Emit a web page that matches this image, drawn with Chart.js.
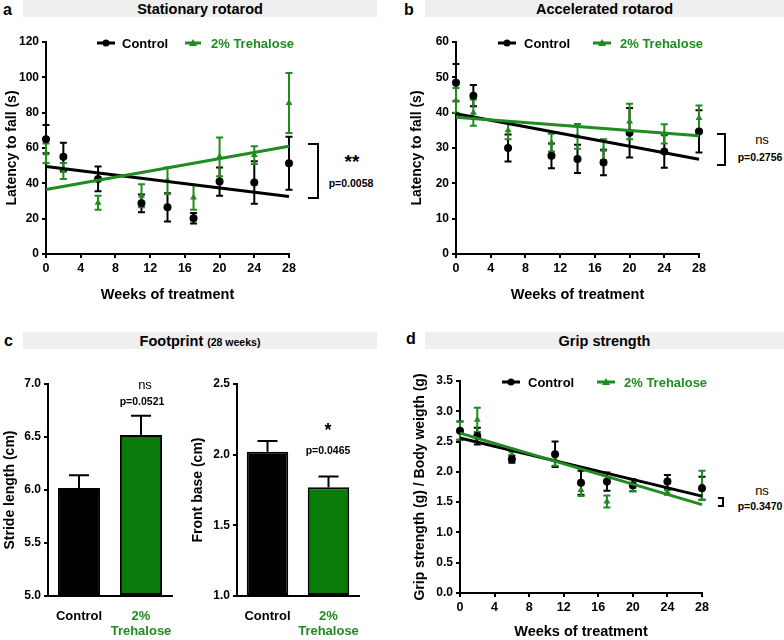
<!DOCTYPE html>
<html>
<head>
<meta charset="utf-8">
<script src="https://cdn.jsdelivr.net/npm/chart.js@4.4.1/dist/chart.umd.min.js"></script>
<style>
  body { margin: 0; width: 784px; height: 640px; overflow: hidden; background: #fff; position: relative;
         font-family: "Liberation Sans", Arial, sans-serif; }
  canvas { position: absolute; }
  .band { position: absolute; background: #efefef; height: 17px; font-weight: bold; font-size: 14.5px;
          text-align: center; line-height: 19px; color: #000; }
  .letter { position: absolute; font-weight: bold; font-size: 16px; color: #000; }
  .txt { position: absolute; transform: translate(-50%, -50%); white-space: nowrap; color: #000; font-weight: bold; }
  .brk { position: absolute; border: 2px solid #000; border-left: none; }
</style>
</head>
<body>

<div class="letter" style="left:3px;top:1px">a</div>
<div class="band" style="left:23px;top:0;width:354px">Stationary rotarod</div>
<div class="letter" style="left:404px;top:1px">b</div>
<div class="band" style="left:425px;top:0;width:359px">Accelerated rotarod</div>
<div class="letter" style="left:4px;top:332px">c</div>
<div class="band" style="left:23px;top:332px;width:354px">Footprint <span style="font-size:10.5px">(28 weeks)</span></div>
<div class="letter" style="left:406px;top:330px">d</div>
<div class="band" style="left:425px;top:332px;width:359px">Grip strength</div>

<canvas id="chartA" width="300" height="278" style="left:0;top:30px"></canvas>
<canvas id="chartB" width="305" height="278" style="left:405px;top:30px"></canvas>
<canvas id="chartStride" width="180" height="268" style="left:0;top:372px"></canvas>
<canvas id="chartBase" width="180" height="268" style="left:186px;top:372px"></canvas>
<canvas id="chartD" width="305" height="272" style="left:408px;top:369px"></canvas>

<!-- anotaciones estadísticas -->
<div class="brk" style="left:308px;top:143px;width:9px;height:52px"></div>
<div class="txt" style="left:352px;top:162px;font-size:19px">**</div>
<div class="txt" style="left:351px;top:183px;font-size:10.5px">p=0.0058</div>

<div class="brk" style="left:717px;top:133px;width:7px;height:29px"></div>
<div class="txt" style="left:762px;top:139px;font-size:13px;font-weight:normal">ns</div>
<div class="txt" style="left:760px;top:157px;font-size:10.5px">p=0.2756</div>

<div class="brk" style="left:718px;top:497px;width:4px;height:6px"></div>
<div class="txt" style="left:762px;top:490px;font-size:13px;font-weight:normal">ns</div>
<div class="txt" style="left:760px;top:506px;font-size:10.5px">p=0.3470</div>

<div class="txt" style="left:145px;top:384px;font-size:13px;font-weight:normal">ns</div>
<div class="txt" style="left:142px;top:401px;font-size:10.5px">p=0.0521</div>
<div class="txt" style="left:328px;top:430px;font-size:18px">*</div>
<div class="txt" style="left:328px;top:450px;font-size:10.5px">p=0.0465</div>

<script>
// Semanas de tratamiento
const weeks = [0, 2, 6, 11, 14, 17, 20, 24, 28];
const fitWeeks = [0, 28];
const weekTicks = [0, 4, 8, 12, 16, 20, 24, 28];

// Rotarod estacionario (s)
const ctrlA = [65, 55, 42.5, 28.7, 26.4, 20.2, 41, 40.5, 51.3];
const ctrlAErr = [8, 8, 7, 5, 8, 3, 8, 12, 15];
const treA = [57, 47, 29, 33, 41.5, 32, 55, 56, 85.5];
const treAErr = [5.5, 4.5, 4, 6.5, 7.5, 7, 11, 5, 17];
const fitCtrlA = [49.5, 32.5];
const fitTreA = [36.5, 61];

// Rotarod acelerado (s)
const ctrlB = [48.5, 44.8, 30, 27.8, 26.9, 25.9, 34.3, 29, 34.7];
const ctrlBErr = [5.3, 3, 3.8, 3.5, 4, 3.6, 7, 4.6, 6];
const treB = [43.5, 40, 35, 31.5, 33.3, 29.5, 37.5, 34, 38.5];
const treBErr = [3.5, 3.7, 2.5, 2.5, 3.5, 3, 5, 2.7, 3.5];
const fitCtrlB = [39.7, 26.8];
const fitTreB = [38.7, 33.5];

// Fuerza de agarre (g/g)
const ctrlD = [2.68, 2.59, 2.21, 2.29, 1.82, 1.84, 1.78, 1.84, 1.73];
const ctrlDErr = [0.15, 0.14, 0.06, 0.21, 0.2, 0.15, 0.1, 0.11, 0.19];
const treD = [2.68, 2.86, 2.28, 2.2, 1.7, 1.51, 1.75, 1.66, 1.78];
const treDErr = [0.15, 0.2, 0.05, 0.1, 0.1, 0.1, 0.07, 0.04, 0.24];
const fitCtrlD = [2.56, 1.6];
const fitTreD = [2.64, 1.46];

// Huella (28 semanas)
const groups = ["Control", ["2%", "Trehalose"]];
const stride = [6.02, 6.52];
const strideErr = [0.12, 0.18];
const frontBase = [2.02, 1.77];
const frontBaseErr = [0.076, 0.075];

const BLACK = "#000000";
const GREEN = "#1e8c1e";
const BAR_GREEN = "#0a7a0a";
const FONT = "'Liberation Sans', Arial, sans-serif";

// Barras de error (media ± SEM)
const errorBars = {
  id: "errorBars",
  beforeDatasetsDraw(chart) {
    const ctx = chart.ctx;
    chart.data.datasets.forEach((ds, i) => {
      if (!ds.errors) return;
      const meta = chart.getDatasetMeta(i);
      const yScale = chart.scales[meta.yAxisID];
      const cap = ds.capWidth || 3.5;
      ctx.save();
      ctx.strokeStyle = ds.errorColor || ds.borderColor;
      ctx.lineWidth = 2;
      meta.data.forEach((el, j) => {
        const raw = ds.data[j];
        const v = typeof raw === "object" ? raw.y : raw;
        const e = ds.errors[j];
        const top = yScale.getPixelForValue(v + e);
        const bot = ds.upperOnly ? yScale.getPixelForValue(v) : yScale.getPixelForValue(v - e);
        ctx.beginPath();
        ctx.moveTo(el.x, top);
        ctx.lineTo(el.x, bot);
        ctx.moveTo(el.x - cap, top);
        ctx.lineTo(el.x + cap, top);
        if (!ds.upperOnly) {
          ctx.moveTo(el.x - cap, bot);
          ctx.lineTo(el.x + cap, bot);
        }
        ctx.stroke();
      });
      ctx.restore();
    });
  }
};

// Leyenda estilo GraphPad: línea + marcador + texto
const sampleLegend = {
  id: "sampleLegend",
  afterDraw(chart, args, opts) {
    if (!opts.items) return;
    const ctx = chart.ctx;
    const area = chart.chartArea;
    ctx.save();
    opts.items.forEach(it => {
      const y = area.top + opts.dy;
      const x0 = area.left + it.x0, x1 = area.left + it.x1;
      ctx.strokeStyle = it.color;
      ctx.fillStyle = it.color;
      ctx.lineWidth = 3;
      ctx.beginPath();
      ctx.moveTo(x0, y);
      ctx.lineTo(x1, y);
      ctx.stroke();
      const mx = (x0 + x1) / 2;
      ctx.beginPath();
      if (it.style === "triangle") {
        ctx.moveTo(mx, y - 4);
        ctx.lineTo(mx + 4, y + 3);
        ctx.lineTo(mx - 4, y + 3);
        ctx.closePath();
      } else {
        ctx.arc(mx, y, 3.5, 0, Math.PI * 2);
      }
      ctx.fill();
      ctx.font = "bold 13px " + FONT;
      ctx.textBaseline = "middle";
      ctx.fillText(it.text, area.left + it.tx, y + 1);
    });
    ctx.restore();
  }
};

function yAxis(width, min, max, step, title, decimals, titlePad) {
  return {
    type: "linear", min: min, max: max,
    afterFit(scale) { scale.width = width; },
    border: { display: true, color: BLACK, width: 2 },
    grid: { display: true, drawOnChartArea: false, color: BLACK, lineWidth: 2, tickLength: 4 },
    ticks: {
      stepSize: step, color: BLACK, padding: 3,
      font: { family: FONT, size: 12, weight: "bold" },
      callback: v => decimals ? v.toFixed(decimals) : v
    },
    title: {
      display: true, text: title, color: BLACK,
      font: { family: FONT, size: 14, weight: "bold" },
      padding: { top: titlePad, bottom: 4 }
    }
  };
}

function timeChart(id, o) {
  const pts = vals => weeks.map((w, i) => ({ x: w, y: vals[i] }));
  const fit = vals => fitWeeks.map((w, i) => ({ x: w, y: vals[i] }));
  new Chart(document.getElementById(id), {
    type: "scatter",
    data: {
      datasets: [
        { label: "fitTre", data: fit(o.fitTre), showLine: true, borderColor: GREEN, borderWidth: 3, pointRadius: 0, clip: false },
        { label: "fitCtrl", data: fit(o.fitCtrl), showLine: true, borderColor: BLACK, borderWidth: 3, pointRadius: 0, clip: false },
        { label: "Control", data: pts(o.ctrl), errors: o.ctrlErr, borderColor: BLACK, backgroundColor: BLACK,
          pointStyle: "circle", pointRadius: 4, borderWidth: 0, clip: false },
        { label: "2% Trehalose", data: pts(o.tre), errors: o.treErr, borderColor: GREEN, backgroundColor: GREEN,
          pointStyle: "triangle", pointRadius: 4, borderWidth: 0, clip: false }
      ]
    },
    options: {
      responsive: false, animation: false, devicePixelRatio: 1,
      layout: { padding: o.padding },
      plugins: {
        legend: { display: false }, tooltip: { enabled: false },
        sampleLegend: { dy: 1, items: o.legend }
      },
      scales: {
        x: {
          type: "linear", min: 0, max: 28,
          afterFit(scale) { scale.height = o.xHeight; },
          afterBuildTicks(scale) { scale.ticks = weekTicks.map(v => ({ value: v })); },
          border: { display: true, color: BLACK, width: 2 },
          grid: { display: true, drawOnChartArea: false, color: BLACK, lineWidth: 2, tickLength: 4 },
          ticks: { color: BLACK, padding: 3, font: { family: FONT, size: 12.5, weight: "bold" } },
          title: {
            display: true, text: "Weeks of treatment", color: BLACK,
            font: { family: FONT, size: 14.5, weight: "bold" },
            padding: { top: 4, bottom: o.xTitlePad }
          }
        },
        y: yAxis(o.yWidth, o.min, o.max, o.step, o.yTitle, o.decimals, 4)
      }
    },
    plugins: [errorBars, sampleLegend]
  });
}

const legendA = [
  { x0: 51, x1: 69, tx: 76, text: "Control", color: BLACK, style: "circle" },
  { x0: 139, x1: 155, tx: 165, text: "2% Trehalose", color: GREEN, style: "triangle" }
];
const legendBD = [
  { x0: 42, x1: 60, tx: 68, text: "Control", color: BLACK, style: "circle" },
  { x0: 137, x1: 155, tx: 164, text: "2% Trehalose", color: GREEN, style: "triangle" }
];

timeChart("chartA", {
  ctrl: ctrlA, ctrlErr: ctrlAErr, tre: treA, treErr: treAErr, fitCtrl: fitCtrlA, fitTre: fitTreA,
  min: 0, max: 120, step: 20, decimals: 0, yTitle: "Latency to fall (s)",
  yWidth: 46, xHeight: 54, xTitlePad: 4, padding: { left: 0, top: 12, right: 11, bottom: 0 }, legend: legendA
});
timeChart("chartB", {
  ctrl: ctrlB, ctrlErr: ctrlBErr, tre: treB, treErr: treBErr, fitCtrl: fitCtrlB, fitTre: fitTreB,
  min: 0, max: 60, step: 10, decimals: 0, yTitle: "Latency to fall (s)",
  yWidth: 51, xHeight: 54, xTitlePad: 4, padding: { left: 0, top: 12, right: 11, bottom: 0 }, legend: legendBD
});
timeChart("chartD", {
  ctrl: ctrlD, ctrlErr: ctrlDErr, tre: treD, treErr: treDErr, fitCtrl: fitCtrlD, fitTre: fitTreD,
  min: 0, max: 3.5, step: 0.5, decimals: 1, yTitle: "Grip strength (g) / Body weigth (g)",
  yWidth: 52, xHeight: 48, xTitlePad: 0, padding: { left: 0, top: 12, right: 11, bottom: 0 }, legend: legendBD
});

function barChart(id, vals, errs, min, max, title, yWidth, padRight, titlePad) {
  new Chart(document.getElementById(id), {
    type: "bar",
    data: {
      labels: groups,
      datasets: [{
        data: vals, errors: errs, upperOnly: true, capWidth: 10, errorColor: BLACK,
        base: min,
        backgroundColor: [BLACK, BAR_GREEN], borderColor: BLACK, borderWidth: 2, borderSkipped: false,
        barPercentage: 0.68, categoryPercentage: 1
      }]
    },
    options: {
      responsive: false, animation: false, devicePixelRatio: 1,
      layout: { padding: { left: 0, top: 12, right: padRight, bottom: 0 } },
      plugins: { legend: { display: false }, tooltip: { enabled: false } },
      scales: {
        x: {
          afterFit(scale) { scale.height = 44; },
          border: { display: true, color: BLACK, width: 2 },
          grid: { display: false },
          ticks: {
            padding: 5, maxRotation: 0, minRotation: 0, autoSkip: false,
            color: c => c.index === 1 ? GREEN : BLACK,
            font: { family: FONT, size: 13, weight: "bold", lineHeight: 1.15 }
          }
        },
        y: yAxis(yWidth, min, max, 0.5, title, 1, titlePad)
      }
    },
    plugins: [errorBars]
  });
}

barChart("chartStride", stride, strideErr, 5, 7, "Stride length (cm)", 48, 8, 2);
barChart("chartBase", frontBase, frontBaseErr, 1, 2.5, "Front base (cm)", 51, 7, 4);
</script>
</body>
</html>
